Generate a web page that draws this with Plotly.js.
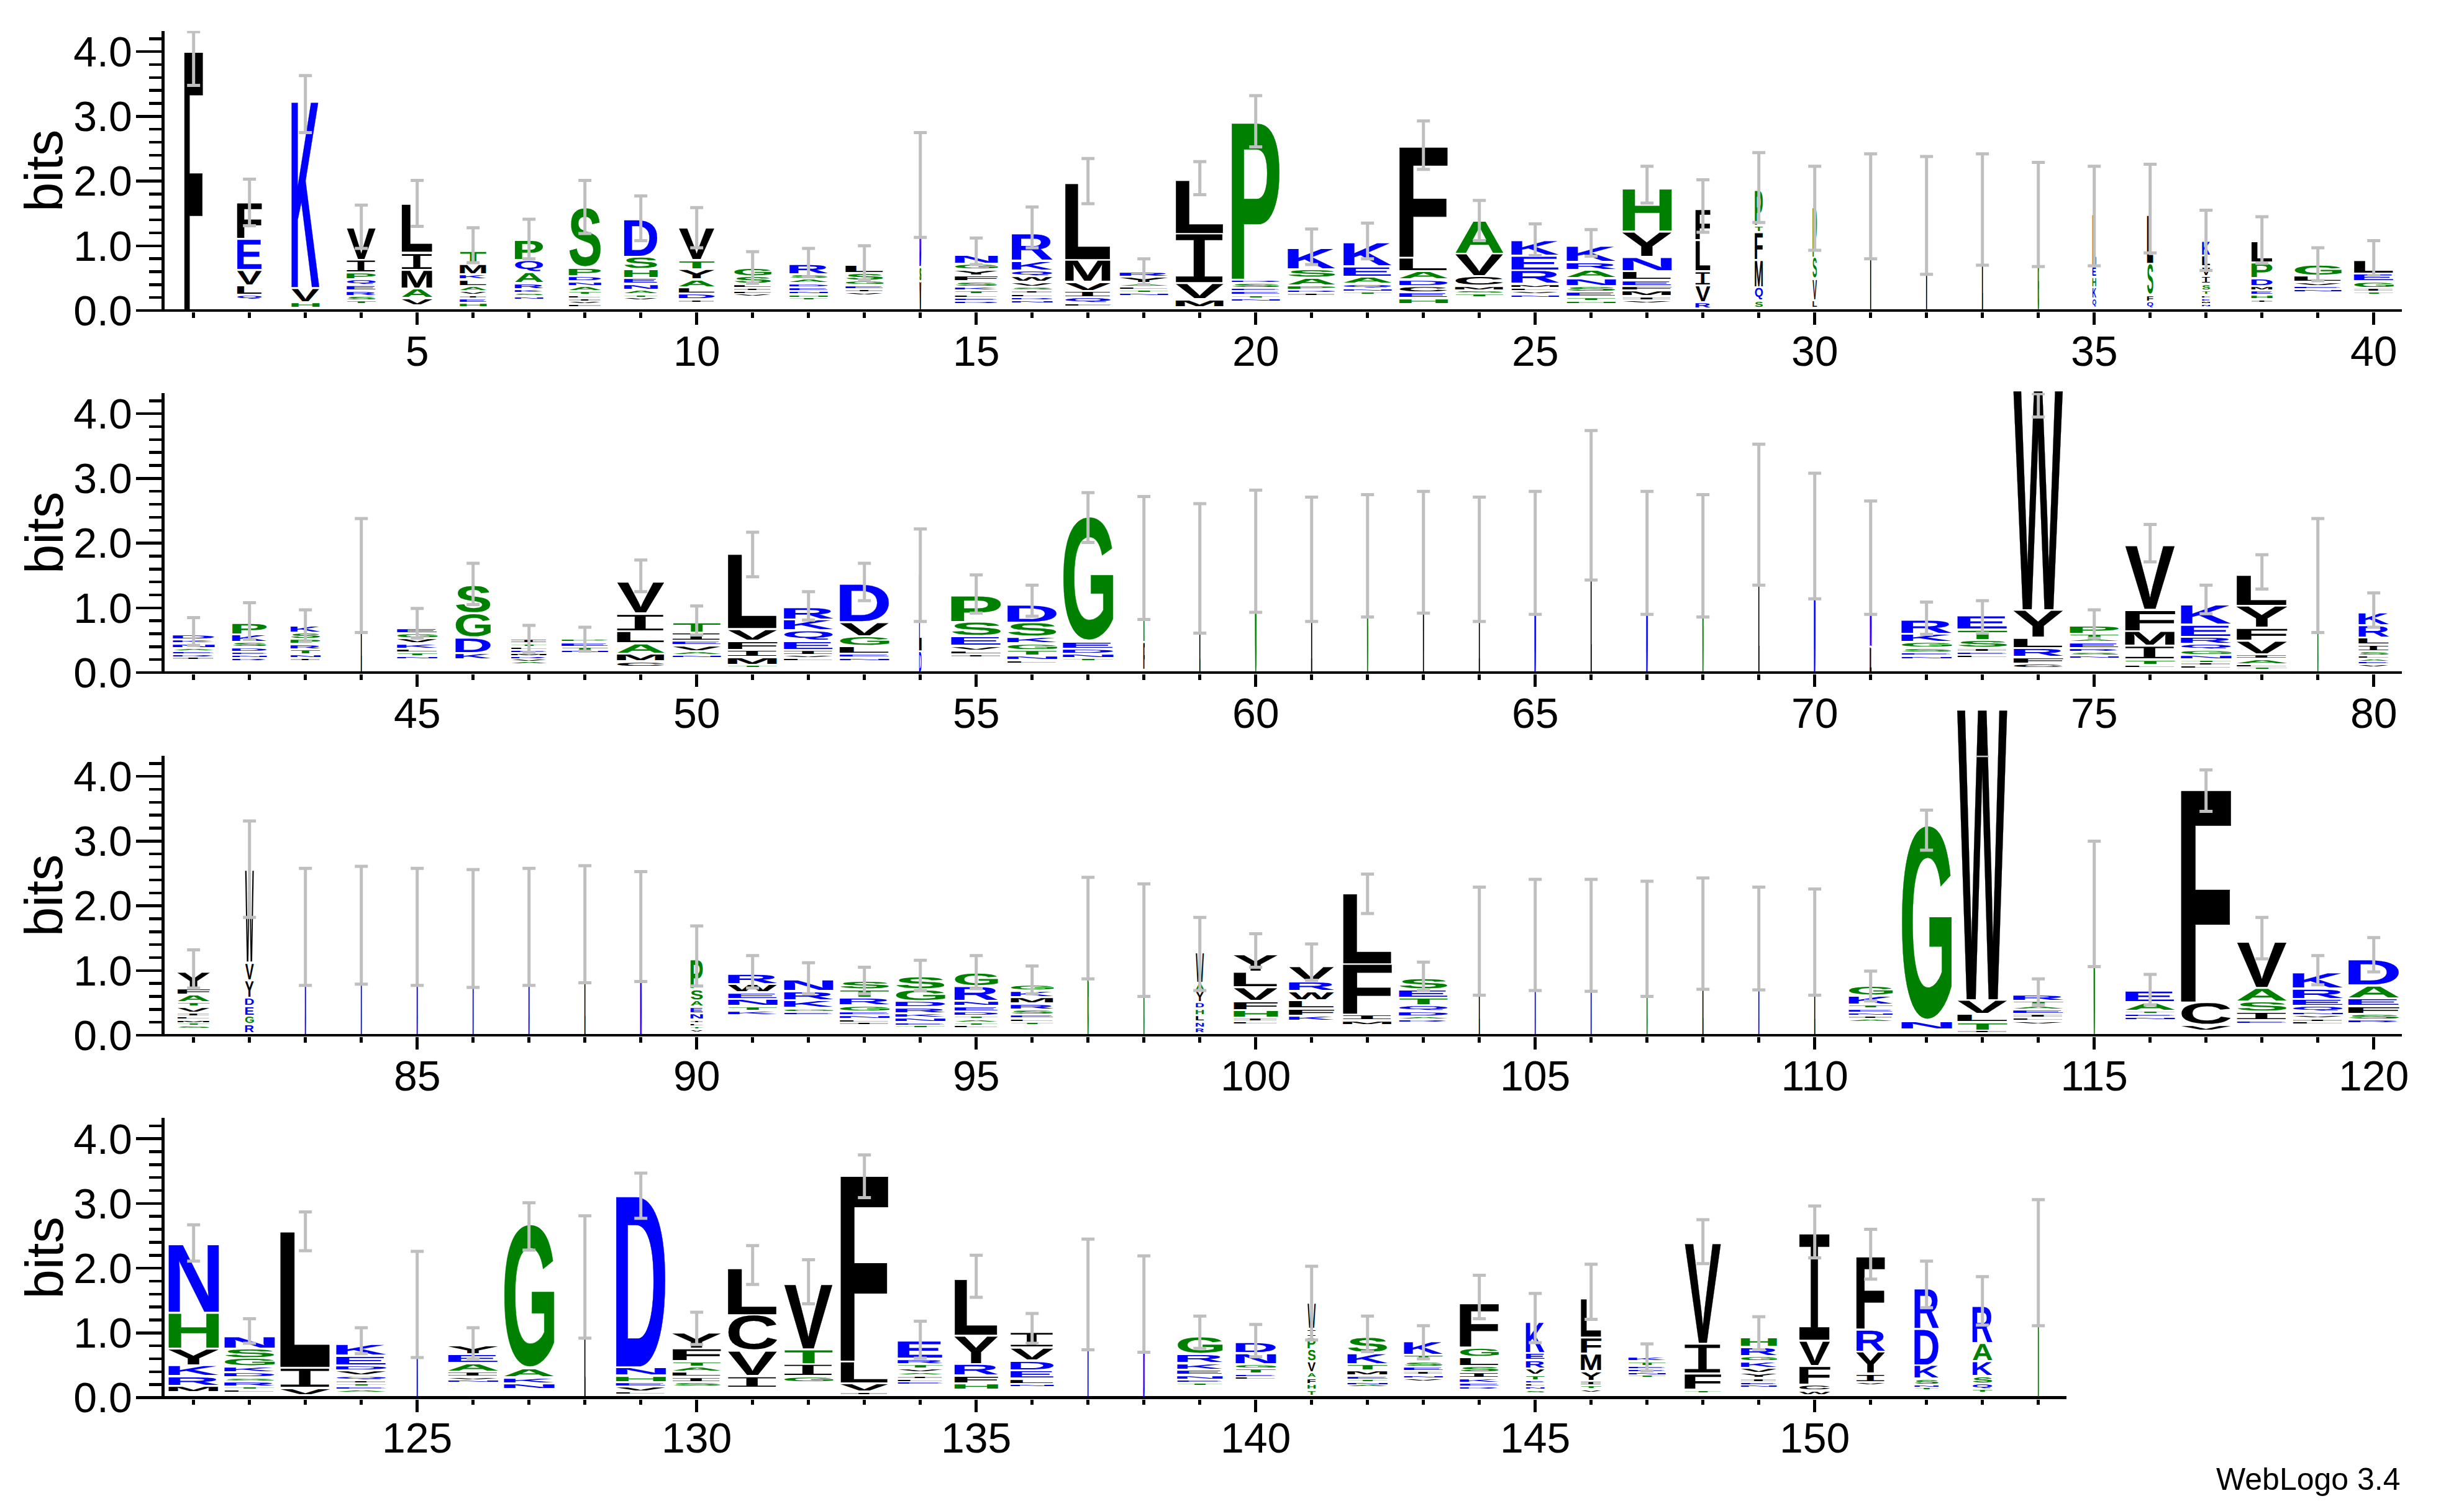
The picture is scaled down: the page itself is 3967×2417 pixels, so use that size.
<!DOCTYPE html>
<html>
<head>
<meta charset="utf-8">
<script src="https://cdn.plot.ly/plotly-3.0.1.min.js"></script>
<style>html,body{margin:0;padding:0;background:#fff}</style>
</head>
<body>
<div id="logo" style="width:3967px;height:2417px"></div>
<script>
// Each stack reads top to bottom: letter, height in bits. "-" is the unseen rest of the stack.
const stacks1 = [
"F 3.96","F .56 E .48 V .24 L .15 Q .08 - .16","K 2.85 V .22 H .09 - .04",
"V .50 I .20 P .105 Q .09 E .083 R .08 S .072 T .06 - .094","L .75 I .26 M .29 A .15 V .11 - .08",
"T .20 M .16 K .08 L .10 A .08 V .06 I .05 E .07 H .07 - .05","P .31 Q .19 A .17 R .09 K .06 S .05 N .05 - .17",
"S .91 P .13 D .08 N .07 A .08 T .06 L .05 I .05 V .04 F .04 - .06","D .58 S .19 H .14 E .09 N .09 A .07 T .05 V .04 - .16",
"V .50 T .14 Y .16 A .12 L .10 D .09 I .05 - .12","G .13 S .12 L .06 I .05 F .04 V .04 - .22",
"R .16 S .07 A .07 D .06 E .06 N .05 H .05 T .04 - .16","L .13 S .12 G .07 E .06 I .05 V .05 - .23",
"D 1.25 S .22 V .45","N .14 G .09 Y .09 F .09 S .08 K .06 T .06 L .05 E .05 D .05 - .10",
"R .42 K .15 Q .09 W .09 V .07 S .06 I .05 L .05 D .05 N .05 - .11","L 1.18 M .34 V .14 I .10 Q .09 F .04 - .07",
"R .08 Y .10 A .05 L .05 T .05 N .04 - .23","L .83 I .76 V .25 M .12 - .05",
"P 2.40 D .05 S .08 E .05 E .06 T .05 N .05 - .14","K .33 S .13 A .12 P .07 D .05 I .04 - .23",
"K .37 E .16 A .11 Q .07 N .05 T .05 - .24","F 1.70 L .21 A .13 D .10 C .10 E .09 H .09 - .10",
"A .51 V .35 C .15 M .07 S .05 T .06 - .20","K .24 E .23 R .21 M .06 L .05 V .05 N .05 - .20",
"K .25 R .12 A .13 N .12 S .09 E .08 T .06 H .05 - .10","H .66 Y .39 N .22 L .14 E .09 F .07 M .09 I .06 V .05 - .11",
"F .48 L .48 I .22 V .26 R .10 - .03","P .55 T .10 F .43 M .42 Q .21 S .11 - .04","P .77 S .33 V .33 L .12 - .04",
"V 1.61","V 1.48","L 1.56","K .65 G .83","L .80 E .16 H .16 K .18 Q .14 - .04",
"L .75 S .48 F .10 Q .11 - .03","K .23 L .17 V .15 I .12 S .10 T .07 F .05 E .05 M .04 N .05 - .05",
"L .33 P .24 D .12 M .07 E .07 H .07 I .05 - .12","G .17 L .10 V .06 E .05 N .04 - .29","L .21 E .12 G .10 I .06 T .05 - .24"];
const widths1 = [30,40,45,47,50,43,46,52,54,58,60,62,61,3,69,66,74,78,78,78,77,78,78,78,77,79,79,24,13,7,1.2,1,1,2,6,10,13,34,76,64];
const lo1 = [3.48,1.31,2.75,.96,1.30,.74,.80,1.19,1.08,.97,.42,.52,.47,1.13,.71,.97,1.65,.40,1.79,2.53,.71,.80,2.18,1.08,.85,.84,1.66,1.21,1.36,.93,.80,.56,.70,.68,.69,.89,.62,.73,.46,.54];
const hi1 = [4.31,2.03,3.63,1.63,2.01,1.28,1.41,2.01,1.77,1.59,.91,.96,1.00,2.75,1.12,1.60,2.35,.80,2.30,3.32,1.26,1.35,2.93,1.70,1.34,1.25,2.23,2.02,2.44,2.23,2.42,2.38,2.42,2.29,2.23,2.26,1.55,1.45,.97,1.08];

const stacks2 = [
"D .08 K .06 N .07 A .05 E .05 R .04 I .04 - .20","P .18 K .12 S .08 D .07 E .05 N .05 R .03 - .19","K .11 S .10 P .08 R .08 T .08 N .06 I .04 - .18",
"L 1.50","E .08 G .08 V .08 K .08 L .06 T .06 N .04 - .21","S .43 G .37 D .24 K .10 - .20",
"I .07 T .05 L .05 E .05 M .04 R .05 V .04 A .03 - .14","P .05 E .07 T .06 N .03 - .31","V .49 I .27 L .19 A .16 M .12 C .08 - .09",
"T .16 I .13 E .07 V .09 A .06 N .05 - .22","L 1.15 V .18 F .14 I .11 M .12 T .04 - .08","R .19 K .17 Q .16 E .14 I .08 V .05 L .04 - .18",
"D .59 V .22 G .15 L .12 E .06 N .05 - .18","L 1.19 D .33","P .41 S .22 E .15 V .07 L .06 I .05 - .23",
"D .28 S .22 K .10 G .10 T .09 N .07 L .05 - .14","G 1.89 E .11 D .08 N .07 T .04 - .18","T 1.30 F .43 - .04","I 1.61","G 1.86",
"I 1.74","G 1.80","V 1.86","I 1.74","D 1.85","L 2.58","D 1.85","G 1.80","L 2.43","D 2.11","N 1.39 L .40",
"R .22 K .13 G .09 S .07 E .05 N .05 - .21","E .22 T .16 S .12 I .06 E .05 L .05 - .22",
"W 3.36 Y .43 L .16 R .14 F .10 C .07 - .07","P .13 T .08 A .05 E .09 R .06 S .06 N .04 - .22",
"V .99 F .33 M .23 I .21 T .08 L .05 - .07","K .31 E .19 R .11 Q .09 G .08 N .07 T .05 I .04 L .04 - .07",
"L .48 Y .34 F .20 V .21 I .07 A .08 L .04 T .04 - .05","G 1.50","K .20 R .19 L .11 I .10 S .07 L .04 A .05 E .04 V .04 - .09"];
const widths2 = [67,56,48,1,65,57,58,75,77,78,80,80,80,4,81,80,81,2,1,2,1,1,1,1,2,1.5,2,1,1.5,2,3,81,81,80,79,81,81,82,1,49];
const lo2 = [.42,.51,.48,.62,.53,1.05,.31,.33,1.25,.58,1.48,.81,1.11,.79,.92,.87,2.01,.82,.61,.93,.79,.86,.92,.79,.90,1.43,.90,.86,1.35,1.14,.90,.59,.61,3.95,.53,1.71,.91,1.29,.62,.70];
const hi2 = [.85,1.08,.97,2.38,.99,1.69,.73,.70,1.74,1.03,2.17,1.25,1.69,2.22,1.51,1.35,2.78,2.72,2.61,2.82,2.71,2.75,2.80,2.71,2.80,3.74,2.80,2.75,3.53,3.08,2.65,1.09,1.11,4.31,.97,2.29,1.35,1.82,2.38,1.23];

const stacks3 = [
"Y .25 F .10 A .12 T .07 V .09 I .06 L .05 M .05 T .04 S .05 - .10","W 1.42 V .27 Y .27 D .13 E .15 G .13 R .14 - .03",
"D 1.67","D 1.70","D 1.67","D 1.64","D 1.67","L 1.71","N 1.69",
"P .46 S .17 A .10 E .10 N .10 I .05 L .05 T .05 V .04 - .05","R .16 W .13 E .10 N .11 T .07 K .07 - .31","N .18 R .14 K .12 G .06 E .05 - .31",
"S .13 T .13 R .12 G .09 E .06 N .06 L .05 I .04 - .16","S .20 G .18 D .10 R .09 K .07 N .07 E .05 T .03 - .12",
"G .21 R .23 N .08 E .08 D .07 T .05 A .05 T .05 L .04 - .11","G .09 K .10 M .10 R .09 S .08 E .06 L .05 T .05 - .16",
"N .12 G 1.53","G 1.48","W .47 A .12 Y .18 D .10 H .10 L .10 N .09 R .09 - .03",
"Y .27 L .24 V .21 F .14 H .12 I .06 L .04 - .17","V .24 R .15 W .14 L .13 F .11 K .08 - .22","L 1.09 F .78 I .09 M .07 - .16",
"S .17 E .13 T .12 Q .09 D .08 A .05 R .04 - .20","L 1.44","D 1.55","D 1.53","G 1.48","L 1.57","D 1.50","L 1.44",
"G .15 K .14 T .06 E .06 N .05 I .05 A .03 - .22","G 2.95 N .13 - .09","W 4.44 V .22 L .13 T .13 I .03 - .04",
"R .10 T .07 A .06 E .07 I .06 L .05 V .05 - .17","G 2.03","E .18 A .13 T .05 E .05 N .05 - .23","F 3.25 C .35 V .09 - .07",
"V .71 A .21 S .16 I .13 E .05 - .18","K .25 R .16 E .11 Q .09 N .05 V .05 I .05 L .04 - .17","D .40 A .20 E .12 F .12 S .09 R .06 - .18"];
const widths3 = [52,14,1.5,1,1.5,1,1.5,1,2.5,20,79,79,80,80,70,69,2,1,13,71,73,79,79,1,1,1,1,1,1,1,71,81,81,81,1.5,80,81,81,81,82];
const lo3 = [.73,1.82,.77,.79,.77,.74,.77,.81,.83,.76,.73,.64,.64,.69,.72,.64,.87,.60,.69,1.05,.85,1.88,.69,.62,.69,.68,.60,.71,.70,.62,.53,2.86,4.32,.47,1.06,.47,3.46,1.18,.78,.98];
const hi3 = [1.32,3.31,2.58,2.61,2.58,2.56,2.58,2.62,2.53,1.69,1.23,1.12,1.05,1.16,1.23,1.07,2.44,2.34,1.82,1.57,1.41,2.49,1.13,2.29,2.41,2.41,2.38,2.43,2.29,2.26,.99,3.48,4.63,.87,3.00,.94,4.10,1.82,1.23,1.51];

const stacks4 = [
"N 1.05 H .55 Y .26 K .17 R .15 M .10 - .08","N .19 S .15 G .13 K .09 D .08 S .06 R .08 T .05 L .03 - .09","L 2.09 I .31 V .11 - .04",
"K .18 E .15 D .08 V .08 Q .07 I .05 T .05 E .05 A .03 - .09","G .60 N .82","Y .14 E .14 A .13 I .08 V .05 N .04 - .23","G 2.18 A .14 K .09 N .09 - .13",
"L 1.88","D 2.62 N .13 H .10 E .07 V .08 L .04 - .05","Y .25 F .20 T .08 A .08 L .08 I .08 S .07 - .17","L .72 C .55 V .39 I .18 - .15",
"V 1.00 T .23 I .19 G .09 - .24","F 2.84 L .34 V .13 I .05 - .04","E .28 R .08 T .07 V .06 A .05 I .05 L .05 E .03 - .21",
"L .87 Y .44 R .18 F .12 H .10 - .12","I .24 V .20 D .15 E .13 L .08 N .04 - .17","D 1.60","I .60 D .85",
"G .27 R .14 K .10 E .08 N .07 E .05 T .05 - .18","D .17 N .17 G .07 T .08 E .05 L .04 - .28",
"W .40 I .12 P .19 S .19 V .17 A .09 F .09 H .09 T .09 - .03","S .24 K .17 T .10 M .08 E .06 T .04 N .04 A .03 - .17",
"K .21 T .10 S .08 E .07 I .06 N .05 V .05 - .25","F .68 G .14 L .14 S .10 I .09 K .07 E .06 R .04 - .13",
"K .48 E .11 R .13 V .10 T .08 E .05 L .05 N .05 S .05 - .07","L .60 F .25 M .27 Y .15 I .07 T .06 V .05 - .08",
"K .07 T .07 E .05 E .05 N .04 T .03 - .32","V 1.54 I .46 F .25 T .05 - .07","H .15 R .14 G .08 K .10 V .08 Y .08 I .06 E .04 N .04 - .16",
"I 1.64 V .39 F .29 C .09 W .07 - .04","F 1.12 R .34 Y .34 I .13 V .05 - .19","R .62 D .56 K .21 S .09 N .05 T .03 - .12",
"R .57 A .28 K .23 S .11 Q .09 T .06 - .07","T 2.08"];
const widths4 = [81,81,81,81,1.5,81,81,1,80,78,80,79,77,73,70,70,1,2.5,73,65,13,65,63,63,30,33,60,59,58,50,46,39,32,2.5];
const lo4 = [2.11,.84,2.27,.68,.62,.60,2.28,.92,2.77,.82,1.75,1.45,3.09,.61,1.55,.84,.74,.70,.76,.63,.89,.71,.60,1.22,.85,1.21,.41,2.07,.74,2.16,1.83,1.39,1.12,1.11];
const hi4 = [2.67,1.22,2.87,1.08,2.26,1.08,3.01,2.81,3.47,1.32,2.35,2.13,3.75,1.18,2.20,1.30,2.45,2.19,1.26,1.13,2.03,1.26,1.11,1.89,1.61,2.06,.83,2.75,1.25,2.96,2.60,2.11,1.87,3.06];

const rowStarts = [1,41,81,121];
const rowStacks = [stacks1,stacks2,stacks3,stacks4];
const rowWidths = [widths1,widths2,widths3,widths4];
const rowLo = [lo1,lo2,lo3,lo4];
const rowHi = [hi1,hi2,hi3,hi4];
const extraStem = {row:2, pos:113, from:4.63, to:4.99};

const BLUE='#0000ff', GREEN='#008000', BLACK='#000000';
const letterColour = {K:BLUE,R:BLUE,D:BLUE,E:BLUE,N:BLUE,Q:BLUE,A:GREEN,G:GREEN,H:GREEN,P:GREEN,S:GREEN,T:GREEN,
  F:BLACK,L:BLACK,I:BLACK,V:BLACK,M:BLACK,Y:BLACK,W:BLACK,C:BLACK};

const W=3967,H=2417,PXBIT=104.2,PXPOS=90;
const baselines=[500,1083,1667,2250.5];
const axisFont={family:'"Liberation Sans", Arial, sans-serif',size:68,color:'#000'};
const GRAY='#bfbfbf';
const traces=[], layout={
  width:W,height:H,margin:{l:0,r:0,t:0,b:0},paper_bgcolor:'#fff',plot_bgcolor:'#fff',showlegend:false,autosize:false,
  annotations:[{text:'WebLogo 3.4',xref:'paper',yref:'paper',x:3867/W,y:1-2382/H,xanchor:'right',yanchor:'middle',showarrow:false,
    font:{family:'"Liberation Sans", Arial, sans-serif',size:50,color:'#000'}}]
};

rowStarts.forEach((start,r)=>{
  const id=r?String(r+1):'';
  const xid='x'+id, yid='y'+id;
  const xs=[],ys=[],tx=[],col=[],fam=[],cd=[];
  const px=[],mid=[],half=[],gx=[],gy=[];
  const thin={[BLUE]:{x:[],y:[]},[GREEN]:{x:[],y:[]},[BLACK]:{x:[],y:[]}};
  rowStacks[r].forEach((s,i)=>{
    const pos=start+i, t=s.trim().split(/\s+/);
    let total=0; for(let k=1;k<t.length;k+=2) total+=parseFloat(t[k]);
    let cursor=total;
    for(let k=0;k<t.length;k+=2){
      const h=parseFloat(t[k+1]); cursor-=h;
      if(t[k]==='-') continue;
      xs.push(pos); ys.push(cursor); tx.push(t[k]); col.push(letterColour[t[k]]);
      fam.push(t[k]==='I'?'Liberation Mono':'Liberation Sans');
      cd.push([h,rowWidths[r][i]/PXPOS]);
      if(rowWidths[r][i]<4){
        const g=thin[letterColour[t[k]]];
        g.x.push(pos,pos,null); g.y.push(cursor+0.02,cursor+h-0.02,null);
      }
    }
    px.push(pos); mid.push((rowLo[r][i]+rowHi[r][i])/2); half.push((rowHi[r][i]-rowLo[r][i])/2);
    if(total<rowHi[r][i]-0.02 && total>rowLo[r][i]){gx.push(pos);gy.push(total);}
  });
  traces.push({type:'scatter',mode:'text',meta:'letters',x:xs,y:ys,text:tx,customdata:cd,xaxis:xid,yaxis:yid,cliponaxis:false,
    textposition:'middle center',textfont:{color:col,family:fam,size:20},hoverinfo:'skip'});
  Object.keys(thin).forEach(c=>{
    if(thin[c].x.length) traces.push({type:'scatter',mode:'lines',x:thin[c].x,y:thin[c].y,xaxis:xid,yaxis:yid,cliponaxis:false,
      connectgaps:false,line:{color:c,width:1.6,simplify:false},hoverinfo:'skip'});
  });
  traces.push({type:'scatter',mode:'markers',x:px,y:mid,xaxis:xid,yaxis:yid,cliponaxis:false,marker:{size:1,opacity:0},hoverinfo:'skip',
    error_y:{type:'data',symmetric:true,array:half,color:GRAY,thickness:5,width:10.5}});
  traces.push({type:'scatter',mode:'markers',x:gx,y:gy,xaxis:xid,yaxis:yid,cliponaxis:false,marker:{size:1,opacity:0},hoverinfo:'skip',
    error_y:{type:'data',symmetric:true,value:0.036,color:'#ffffff',thickness:7,width:0}});
  if(extraStem.row===r){
    traces.push({type:'scatter',mode:'markers',x:[extraStem.pos],y:[(extraStem.from+extraStem.to)/2],xaxis:xid,yaxis:yid,cliponaxis:false,
      marker:{size:1,opacity:0},hoverinfo:'skip',
      error_y:{type:'data',symmetric:true,array:[(extraStem.to-extraStem.from)/2],color:GRAY,thickness:5,width:0}});
  }
  const left=264.85, pos1=311.7, right=3867-(r===3?540:0);
  const b=baselines[r];
  layout['xaxis'+id]={domain:[left/W,right/W],range:[start+(left-pos1)/PXPOS,start+(right-pos1)/PXPOS],anchor:yid,
    showgrid:false,zeroline:false,showline:false,ticks:'outside',ticklen:20,tickwidth:4.5,tickcolor:'#000',
    tick0:0,dtick:5,tickfont:axisFont,ticklabelstandoff:-16,tickangle:0,
    minor:{tick0:0,dtick:1,ticks:'outside',ticklen:8.5,tickwidth:4.5,tickcolor:'#000',showgrid:false}};
  const bottom=b+0.02*PXBIT, top=b-4.32*PXBIT;
  layout['yaxis'+id]={domain:[1-bottom/H,1-top/H],range:[-0.02,4.32],anchor:xid,
    showgrid:false,zeroline:true,zerolinewidth:4.5,zerolinecolor:'#000',showline:true,linewidth:4.5,linecolor:'#000',
    ticks:'outside',ticklen:41,tickwidth:4.5,tickcolor:'#000',tick0:0,dtick:1,tickformat:'.1f',tickfont:axisFont,ticklabelstandoff:-7,
    minor:{tick0:0,dtick:0.2,ticks:'outside',ticklen:20,tickwidth:4.5,tickcolor:'#000',showgrid:false}};
  layout.annotations.push({text:'bits',xref:'paper',yref:'paper',x:71/W,y:1-(b-225)/H,xanchor:'center',yanchor:'middle',textangle:-90,showarrow:false,
    font:{family:'"Liberation Sans", Arial, sans-serif',size:85,color:'#000'}});
});

function shapeLetters(gd){
  const GAP=1.8, SIZE=200, MEASURE=4000, MIN_INK=2, STRETCH=1.03;
  const ctx=document.createElement('canvas').getContext('2d');
  const cache={};
  const ink=(ch,mono)=>{
    if(cache[ch]) return cache[ch];
    ctx.font=(mono?'':'bold ')+MEASURE+'px "'+(mono?'Liberation Mono':'Liberation Sans')+'"';
    const m=ctx.measureText(ch), k=SIZE/MEASURE;
    return cache[ch]={l:-m.actualBoundingBoxLeft*k,r:m.actualBoundingBoxRight*k,a:m.actualBoundingBoxAscent*k,d:m.actualBoundingBoxDescent*k};
  };
  gd.querySelectorAll('.scatterlayer .trace').forEach(g=>{
    const cd0=g.__data__&&g.__data__[0]; if(!cd0) return;
    const tr=cd0.trace; if(tr.meta!=='letters') return;
    const xa=gd._fullLayout['xaxis'+tr.xaxis.slice(1)], ya=gd._fullLayout['yaxis'+tr.yaxis.slice(1)];
    g.querySelectorAll('g.textpoint').forEach((tp,n)=>{
      const i=(tp.__data__&&tp.__data__.i!==undefined)?tp.__data__.i:n;
      const el=tp.querySelector('text'); if(!el) return;
      tp.removeAttribute('transform');
      const ch=tr.text[i], mono=ch==='I', mt=ink(ch,mono);
      const h=tr.customdata[i][0], w=tr.customdata[i][1];
      const xl=xa.c2p(tr.x[i]-w/2), xr=xa.c2p(tr.x[i]+w/2);
      let yb=ya.c2p(tr.y[i])-GAP, yt=ya.c2p(tr.y[i]+h)+GAP;
      if(yb-yt<MIN_INK){const c=(yb+yt)/2;yb=c+MIN_INK/2;yt=c-MIN_INK/2;}
      const sx=(xr-xl)/(mt.r-mt.l), sy=STRETCH*(yb-yt)/(mt.a+mt.d);
      el.style.setProperty('font-size',SIZE+'px');
      el.style.setProperty('font-family','"'+(mono?'Liberation Mono':'Liberation Sans')+'"');
      el.style.setProperty('font-weight',mono?'normal':'bold');
      el.setAttribute('text-anchor','start');
      el.setAttribute('x',0); el.setAttribute('y',0);
      el.querySelectorAll('tspan').forEach(t=>{t.removeAttribute('x');t.removeAttribute('y');t.removeAttribute('dy');});
      el.setAttribute('transform','translate('+(xl-mt.l*sx)+' '+(yb-mt.d*sy)+') scale('+sx+' '+sy+')');
      el.style.setProperty('text-rendering','geometricPrecision');
      el.style.setProperty('stroke',tr.textfont.color[i]);
      el.style.setProperty('stroke-width',(yb-yt<10?'1.2px':'0.6px'));
      el.style.setProperty('vector-effect','non-scaling-stroke');
    });
  });
}
const gd=document.getElementById('logo');
Plotly.newPlot(gd,traces,layout,{staticPlot:true,displayModeBar:false}).then(()=>shapeLetters(gd));
</script>
</body>
</html>
